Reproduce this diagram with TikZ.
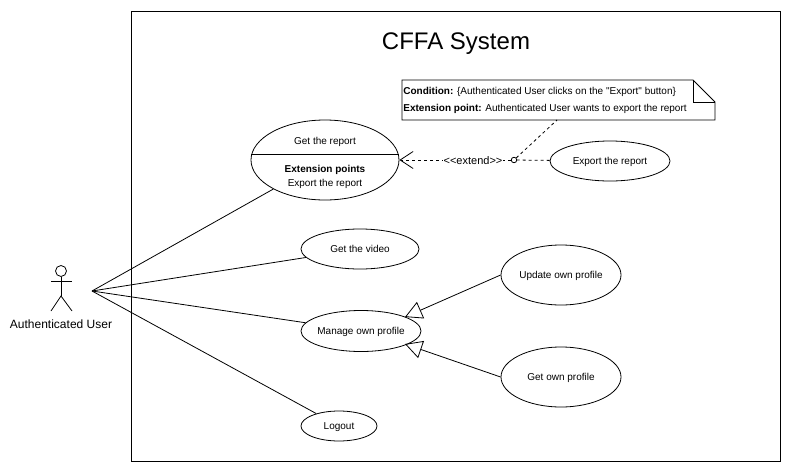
\documentclass[tikz,border=0pt]{standalone}
\usepackage{fontspec}
\setmainfont{Liberation Sans}[Ligatures=TeXOff]
\usetikzlibrary{arrows.meta}
\usetikzlibrary{shapes.geometric}
\newcommand{\usecase}[6] {
    \node[usecase,minimum width=#4,minimum height=#5] (#1)
        at (#2,#3) {\raisebox{-3.5pt}[0pt][0pt]{\makebox[0pt]{#6}}};
}
\tikzset{
    x=1pt,
    y=-1pt,
    every path/.style={line width=0.8pt},
    usecase/.style={draw,ellipse,inner sep=0pt,font=\fontsize{10}{12}\selectfont},
    label/.style={inner sep=1pt,font=\fontsize{10}{12}\selectfont},
    notetext/.style={inner sep=0pt,anchor=west,font=\fontsize{10}{12}\selectfont},
    extendline/.style={dash pattern=on 3pt off 3pt},
    generalize/.style={-{Triangle[open,length=17pt,width=18pt]}},
    extendtip/.style={-{Straight Barb[length=13pt,width=17pt]}},
}
\begin{document}
\begin{tikzpicture}
    \useasboundingbox (0,0) rectangle (792,471);
    \draw (131,11) rectangle (780,461);
    \node[inner sep=0pt,font=\fontsize{24}{28}\selectfont] (title) at (456,44) {CFFA System};
    % actor
    \node[draw,circle,minimum size=11,inner sep=0pt] (head) at (61,271) {};
    \coordinate (hip) at (61,296);
    \draw (head.south) -- (hip);
    \draw (51,281) -- (72,281);
    \draw (51,311) -- (hip) -- (72,311);
    \node[inner sep=0pt,font=\fontsize{12}{14}\selectfont] (actor) at (61,324) {Authenticated User};
    \coordinate (hand) at (92,291);
    % use cases
    \usecase{report}{325}{160}{148}{80}{}
    \coordinate (dividerleft) at (251.4,154);
    \coordinate (dividerright) at (398.6,154);
    \draw (dividerleft) -- (dividerright);
    \node[label] (reporttitle) at (325,142) {Get the report};
    \node[label,font=\fontsize{10}{12}\selectfont\bfseries] (points) at (325,170) {Extension points};
    \node[label] (pointone) at (325,184) {Export the report};
    \usecase{export}{610}{161}{120}{40}{Export the report}
    \usecase{video}{360}{249}{118}{40}{Get the video}
    \usecase{manage}{361}{331}{120}{41}{Manage own profile}
    \usecase{update}{561}{275}{120}{60}{Update own profile}
    \usecase{own}{561}{377}{120}{60}{Get own profile}
    \usecase{logout}{339}{426}{76}{30}{Logout}
    % note
    \draw (402,80) -- (693,80) -- (715,102) -- (715,120) -- (402,120) -- cycle;
    \draw (693,80) -- (693,102) -- (715,102);
    \node[notetext] (condition) at (403,92) {\textbf{Condition:} \{Authenticated User clicks on the "Export" button\}};
    \node[notetext] (point) at (403,109) {\textbf{Extension point:} Authenticated User wants to export the report};
    \coordinate (notefoot) at (557,120);
    % connectors
    \draw (hand) -- (report);
    \draw (hand) -- (video);
    \draw (hand) -- (manage);
    \draw (hand) -- (logout);
    \draw[generalize] (update.west) -- (405,317);
    \draw[generalize] (own.west) -- (405,344);
    \node[draw,circle,minimum size=5.5,inner sep=0pt] (ring) at (514,160) {};
    \draw[extendline] (export) -- (ring);
    \draw[extendline] (ring) -- (notefoot);
    \draw[extendline,extendtip] (ring) -- (report.east);
    \node[label,fill=white,font=\fontsize{11}{13}\selectfont] (extend) at (473,161) {<<extend>>};
\end{tikzpicture}
\end{document}
